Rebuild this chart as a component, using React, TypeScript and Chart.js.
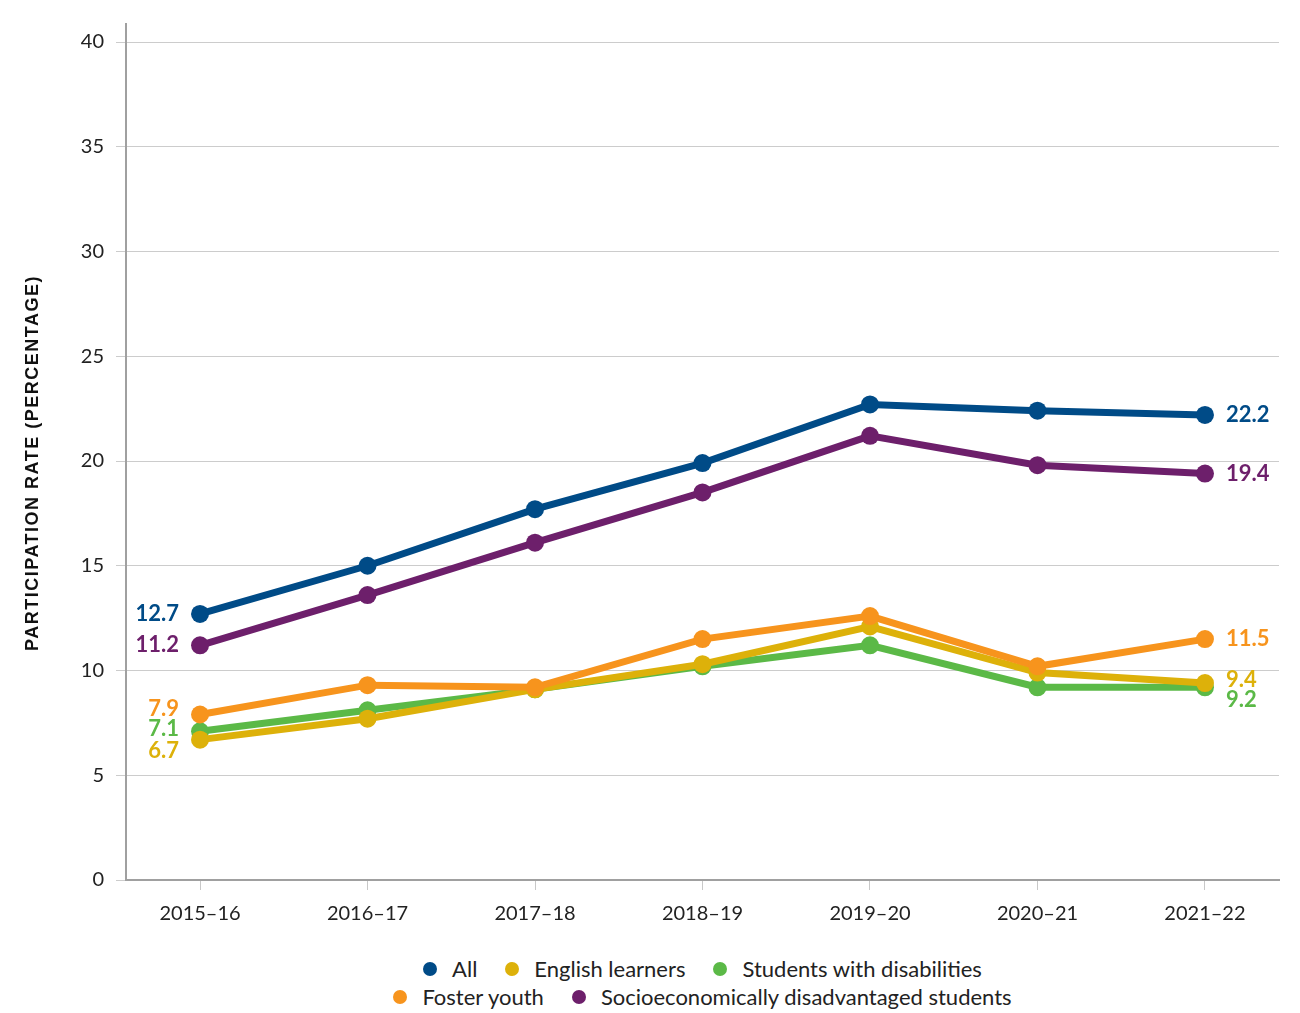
import React, { useEffect, useRef } from "react";
import { Chart, registerables } from "chart.js";

Chart.register(...registerables);

const categories = ["2015–16", "2016–17", "2017–18", "2018–19", "2019–20", "2020–21", "2021–22"];
const allStudents = [12.7, 15.0, 17.7, 19.9, 22.7, 22.4, 22.2];
const socioeconomic = [11.2, 13.6, 16.1, 18.5, 21.2, 19.8, 19.4];
const fosterYouth = [7.9, 9.3, 9.2, 11.5, 12.6, 10.2, 11.5];
const englishLearners = [6.7, 7.7, 9.1, 10.3, 12.1, 9.9, 9.4];
const disabilities = [7.1, 8.1, 9.1, 10.2, 11.2, 9.2, 9.2];
const yTicks = [0, 5, 10, 15, 20, 25, 30, 35, 40];
const yTitle = "PARTICIPATION RATE (PERCENTAGE)";

const seriesNames = [
  "All",
  "Socioeconomically disadvantaged students",
  "Foster youth",
  "English learners",
  "Students with disabilities",
];
const seriesValues = [allStudents, socioeconomic, fosterYouth, englishLearners, disabilities];
const seriesColors = ["#004B87", "#6D1F6B", "#F7941D", "#DDB10A", "#5BB947"];
// vertical label nudges (px) for first / last value labels, to avoid overlap
const leftNudge = [0, 0, -6, 11, -2];
const rightNudge = [0, 0, 0, -3, 13];

const legendRows = [
  ["All", "English learners", "Students with disabilities"],
  ["Foster youth", "Socioeconomically disadvantaged students"],
];

const FONT = "Lato, 'Open Sans', sans-serif";

const endLabels = {
  id: "endLabels",
  afterDatasetsDraw(chart: any) {
    const ctx = chart.ctx;
    ctx.save();
    ctx.font = `bold 22px ${FONT}`;
    ctx.textBaseline = "middle";
    chart.data.datasets.forEach((ds: any, i: number) => {
      const meta = chart.getDatasetMeta(i);
      const first = meta.data[0];
      const last = meta.data[meta.data.length - 1];
      ctx.fillStyle = ds.borderColor;
      ctx.textAlign = "right";
      ctx.fillText(ds.data[0].y.toFixed(1), first.x - 21, first.y + leftNudge[i]);
      ctx.textAlign = "left";
      ctx.fillText(ds.data[ds.data.length - 1].y.toFixed(1), last.x + 21, last.y + rightNudge[i]);
    });
    ctx.restore();
  },
  afterDraw(chart: any) {
    const ctx = chart.ctx;
    const area = chart.chartArea;
    ctx.save();
    ctx.translate(33, (area.top + area.bottom) / 2 + 11);
    ctx.rotate(-Math.PI / 2);
    ctx.font = "bold 18px 'Liberation Sans', Arial, sans-serif";
    (ctx as any).letterSpacing = "1.5px";
    ctx.fillStyle = "#111";
    ctx.textAlign = "center";
    ctx.textBaseline = "middle";
    ctx.fillText(yTitle, 0, 0);
    ctx.restore();
  },
};

export default function App() {
  const ref = useRef<HTMLCanvasElement | null>(null);

  useEffect(() => {
    if (!ref.current) return;
    const chart = new Chart(ref.current, {
      type: "line",
      data: {
        datasets: seriesNames.map((name, i) => ({
          label: name,
          data: seriesValues[i].map((v, j) => ({ x: j, y: v })),
          borderColor: seriesColors[i],
          backgroundColor: seriesColors[i],
          pointBackgroundColor: seriesColors[i],
          pointBorderColor: seriesColors[i],
          borderWidth: 7,
          pointRadius: 9,
          pointBorderWidth: 0,
          tension: 0,
        })),
      },
      options: {
        animation: false,
        responsive: false,
        maintainAspectRatio: false,
        layout: { autoPadding: false, padding: { top: 20, right: 21, left: 0, bottom: 0 } },
        plugins: {
          legend: { display: false },
          tooltip: { enabled: false },
        },
        scales: {
          x: {
            type: "linear",
            min: -0.442,
            max: 6.442,
            afterBuildTicks: (axis: any) => {
              axis.ticks = categories.map((_, i) => ({ value: i }));
            },
            afterFit: (scale: any) => {
              scale.height = 65;
            },
            ticks: {
              callback: (v: any) => categories[Math.round(v)] ?? "",
              color: "#222",
              font: { family: FONT, size: 20 },
              padding: 12,
              maxRotation: 0,
              autoSkip: false,
            },
            grid: {
              drawOnChartArea: false,
              drawTicks: true,
              tickLength: 10,
              color: "#c8c8c8",
              lineWidth: 1,
            },
            border: { color: "#a0a0a0", width: 2 },
          },
          y: {
            min: 0,
            max: 40.86,
            afterBuildTicks: (axis: any) => {
              axis.ticks = yTicks.map((v) => ({ value: v }));
            },
            afterFit: (scale: any) => {
              scale.width = 126;
            },
            ticks: {
              color: "#222",
              font: { family: FONT, size: 20 },
              padding: 12,
            },
            grid: {
              color: "#cccccc",
              lineWidth: 1,
              tickLength: 10,
            },
            border: { color: "#a0a0a0", width: 2 },
          },
        },
      },
      plugins: [endLabels],
    });
    return () => chart.destroy();
  }, []);

  const colorOf = (name: string) => seriesColors[seriesNames.indexOf(name)];

  return (
    <div style={{ position: "absolute", left: 0, top: 0, width: 1300, height: 1013, background: "#fff" }}>
      <canvas ref={ref} width={1300} height={945} style={{ position: "absolute", left: 0, top: 0, width: 1300, height: 945 }} />
      <div
        style={{
          position: "absolute",
          left: 126,
          top: 954,
          width: 1153,
          fontFamily: FONT,
          fontSize: 22,
          color: "#222",
          textAlign: "center",
        }}
      >
        {legendRows.map((row, r) => (
          <div key={r} style={{ height: 28, lineHeight: "28px", whiteSpace: "nowrap" }}>
            {row.map((name) => (
              <span key={name} style={{ display: "inline-flex", alignItems: "center", margin: "0 14px" }}>
                <span
                  style={{
                    display: "inline-block",
                    width: 14,
                    height: 14,
                    borderRadius: "50%",
                    background: colorOf(name),
                    marginRight: 15,
                  }}
                />
                {name}
              </span>
            ))}
          </div>
        ))}
      </div>
    </div>
  );
}
